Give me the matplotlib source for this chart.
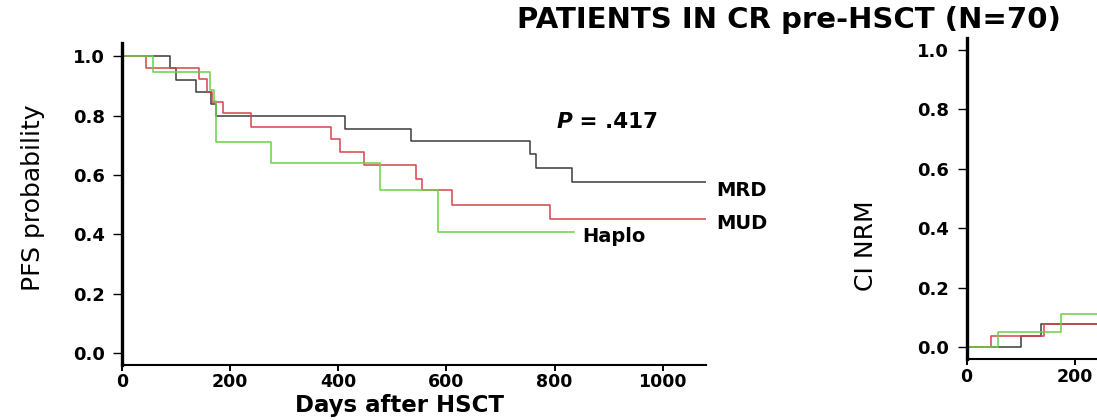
import matplotlib
matplotlib.use("Agg")
import matplotlib.pyplot as plt

plt.rcParams['font.family'] = ['DejaVu Sans']

# ---- data ----
pfs_mrd_t = [0, 89, 100, 136, 165, 174, 413, 534, 755, 766, 832, 1080]
pfs_mrd_s = [1.0, 0.959, 0.919, 0.878, 0.84, 0.80, 0.756, 0.716, 0.671, 0.623, 0.576, 0.576]

pfs_mud_t = [0, 44, 143, 158, 166, 187, 239, 387, 403, 447, 544, 555, 610, 792, 1080]
pfs_mud_s = [1.0, 0.959, 0.922, 0.880, 0.845, 0.808, 0.763, 0.721, 0.679, 0.633, 0.587, 0.548,
             0.499, 0.452, 0.452]

pfs_haplo_t = [0, 57, 162, 171, 174, 276, 478, 584, 836]
pfs_haplo_s = [1.0, 0.947, 0.886, 0.85, 0.710, 0.640, 0.549, 0.410, 0.410]

nrm_mrd_t = [0, 101, 138, 1080]
nrm_mrd_c = [0.0, 0.039, 0.079, 0.079]
nrm_mud_t = [0, 45, 143, 1080]
nrm_mud_c = [0.0, 0.039, 0.079, 0.079]
nrm_haplo_t = [0, 59, 175, 1080]
nrm_haplo_c = [0.0, 0.051, 0.112, 0.112]

group_names = ["MRD", "MUD", "Haplo"]
x_ticks = [0, 200, 400, 600, 800, 1000]
x_ticks_right_visible = [0, 200]
y_ticks = [0.0, 0.2, 0.4, 0.6, 0.8, 1.0]
p_value_text = ".417"
title_text = "PATIENTS IN CR pre-HSCT (N=70)"

colors = {"MRD": "#3c3c3c", "MUD": "#d5444c", "Haplo": "#6ccf48"}

W, H = 1097, 420
fig = plt.figure(figsize=(W / 100, H / 100), dpi=100)


def px_rect(left, top, right, bottom):
    return [left / W, 1 - bottom / H, (right - left) / W, (bottom - top) / H]


ax1 = fig.add_axes(px_rect(122, 43, 706, 365))
ax2 = fig.add_axes(px_rect(966.5, 38.3, 966.5 + 584, 359.3))


def style(ax, ylim, xt):
    ax.set_xlim(0, 1080)
    ax.set_ylim(*ylim)
    for s in ("top", "right"):
        ax.spines[s].set_visible(False)
    ax.spines["left"].set_linewidth(2.4)
    ax.spines["bottom"].set_linewidth(1.5)
    ax.set_xticks(xt)
    ax.set_xticklabels([str(v) for v in xt])
    ax.set_yticks(y_ticks)
    ax.set_yticklabels(["%.1f" % v for v in y_ticks])
    ax.tick_params(axis="y", length=6.5, width=1.0, pad=6, labelsize=13)
    ax.tick_params(axis="x", length=4.5, width=1.4, pad=1.5, labelsize=12.5)
    for lab in ax.get_xticklabels() + ax.get_yticklabels():
        lab.set_fontweight("bold")


style(ax1, (-0.039, 1.044), x_ticks)
style(ax2, (-0.040, 1.039), x_ticks_right_visible)

lw = 1.1
for name, t, s in [("MRD", pfs_mrd_t, pfs_mrd_s),
                   ("MUD", pfs_mud_t, pfs_mud_s),
                   ("Haplo", pfs_haplo_t, pfs_haplo_s)]:
    ax1.step(t, s, where="post", color=colors[name], lw=lw)

for name, t, c in [("MRD", nrm_mrd_t, nrm_mrd_c),
                   ("MUD", nrm_mud_t, nrm_mud_c),
                   ("Haplo", nrm_haplo_t, nrm_haplo_c)]:
    ax2.step(t, c, where="post", color=colors[name], lw=lw)

# curve labels
ax1.text(1099, 0.547, group_names[0], fontsize=14, fontweight="bold", va="center",
         ha="left", clip_on=False)
ax1.text(1099, 0.437, group_names[1], fontsize=14, fontweight="bold", va="center",
         ha="left", clip_on=False)
ax1.text(852, 0.392, group_names[2], fontsize=14, fontweight="bold", va="center",
         ha="left")

# P value
ptxt = ax1.text(803, 0.779, "P", fontsize=15.5, fontweight="bold", fontstyle="italic",
                va="center", ha="left")
ax1.annotate(" = " + p_value_text, xy=(1, 0.5), xycoords=ptxt, fontsize=15.5,
             fontweight="bold", va="center", ha="left")

# axis labels
ax1.set_xlabel("Days after HSCT", fontsize=16.5, fontweight="bold")
ax1.xaxis.set_label_coords((400 - 122) / 584, -(394 - 365) / 322)
ax1.xaxis.label.set_va("top")
ax1.set_ylabel("PFS probability", fontsize=18)
ax1.yaxis.set_label_coords((33 - 122) / 584, (365 - 197.5) / 322)
ax1.yaxis.label.set_va("center")

ax2.set_ylabel("CI NRM", fontsize=18)
ax2.yaxis.set_label_coords((866 - 966.5) / 584, (359.3 - 246) / 321)
ax2.yaxis.label.set_va("center")

fig.text(788.5 / W, 1 - 20 / H, title_text, fontsize=21, fontweight="bold",
         ha="center", va="center")

fig.savefig("out.png", dpi=100)
